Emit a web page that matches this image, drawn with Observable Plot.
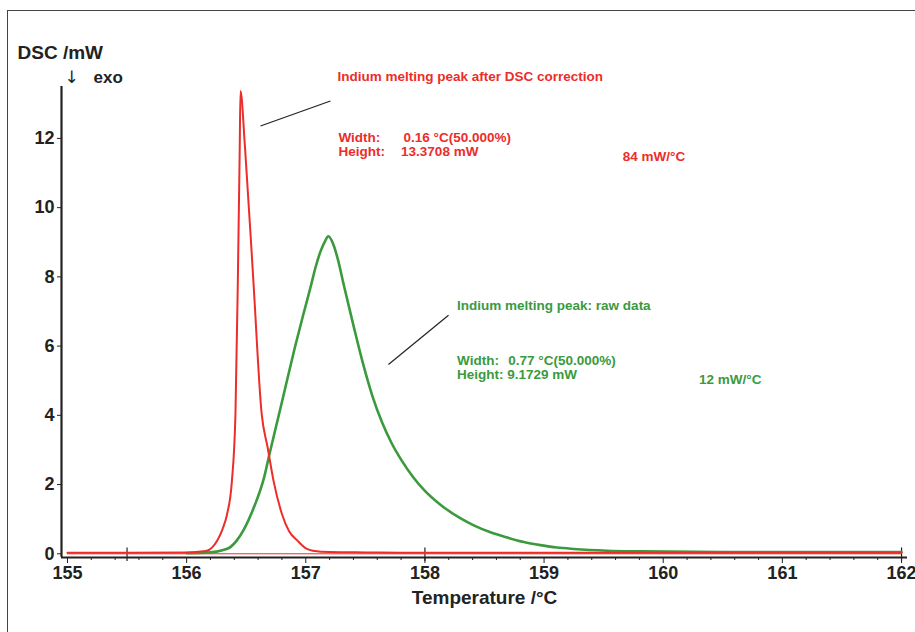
<!DOCTYPE html>
<html>
<head>
<meta charset="utf-8">
<script src="https://cdn.jsdelivr.net/npm/d3@7"></script>
<script src="https://cdn.jsdelivr.net/npm/@observablehq/plot@0.6"></script>
<style>
  html, body { margin: 0; padding: 0; background: #fff; overflow: hidden; }
  #wrap { position: relative; width: 915px; height: 632px; overflow: hidden; }
  #border { position: absolute; left: 7px; top: 10px; width: 1200px; height: 1200px;
            border: 1.5px solid #444; box-sizing: border-box; pointer-events: none; }
  #chart { position: absolute; left: 0; top: 0; }
</style>
</head>
<body>
<div id="wrap"><div id="border"></div><div id="chart"></div></div>
<script>
// Indium melting peak, corrected signal (red)
const redTemp = [155.0, 155.5, 156.0, 156.1, 156.17, 156.256, 156.30, 156.34, 156.38, 156.41, 156.43, 156.445, 156.452,
                 156.49, 156.56, 156.63, 156.68, 156.73, 156.80, 156.86, 156.93, 157.01, 157.06, 157.2, 157.5, 158.0, 159.0, 160.0, 161.0, 162.0];
const redDsc  = [0.03, 0.03, 0.04, 0.06, 0.09, 0.38, 0.7, 1.15, 2.1, 4.05, 7.9, 11.5, 13.3708,
                 11.74, 7.9, 4.04, 3.07, 2.1, 1.15, 0.65, 0.38, 0.14, 0.09, 0.05, 0.04, 0.03, 0.03, 0.03, 0.03, 0.03];

// Indium melting peak, raw signal (green)
const greenTemp = [156.0, 156.2, 156.3, 156.37, 156.42, 156.48, 156.56, 156.65, 156.70, 156.77, 156.84, 156.91, 156.98, 157.04,
                   157.08, 157.12, 157.16, 157.19, 157.23, 157.27, 157.32, 157.40, 157.48, 157.56, 157.64, 157.72, 157.80,
                   157.90, 158.00, 158.13, 158.30, 158.41, 158.55, 158.69, 158.83, 158.97, 159.11, 159.25, 159.53, 159.8,
                   160.5, 161.0, 162.0];
const greenDsc  = [0.02, 0.04, 0.1, 0.2, 0.38, 0.7, 1.3, 2.2, 2.95, 3.95, 4.97, 5.98, 6.92, 7.7,
                   8.25, 8.7, 9.02, 9.1729, 8.95, 8.5, 7.75, 6.6, 5.5, 4.55, 3.8, 3.2, 2.72,
                   2.22, 1.82, 1.42, 1.02, 0.82, 0.62, 0.47, 0.34, 0.25, 0.18, 0.14, 0.09, 0.07,
                   0.05, 0.05, 0.05];

// Axis ticks
const xTicks = [155, 156, 157, 158, 159, 160, 161, 162];
const xMinorTicks = d3.range(155, 162.001, 0.2).map(v => +v.toFixed(1)).filter(v => !Number.isInteger(v));
const yTicks = [0, 2, 4, 6, 8, 10, 12];
const evalLimits = [155.5, 158.0, 162.0];

// Peak evaluation notes
const redLabels = ["Indium melting peak after DSC correction", "Width:", "Height:", "84 mW/°C"];
const redValues = ["0.16 °C(50.000%)", "13.3708 mW"];
const greenLabels = ["Indium melting peak: raw data", "Width:", "Height:", "12 mW/°C"];
const greenValues = ["0.77 °C(50.000%)", "9.1729 mW"];

const RED = "#ec2d2a";
const GREEN = "#3b9a3d";
const INK = "#222";

const red = redTemp.map((t, i) => ({t, v: redDsc[i]}));
const green = greenTemp.map((t, i) => ({t, v: greenDsc[i]}));

const xMin = 154.95, xMax = 162.05, yMin = -0.107, yMax = 13.5;

const redText = [
  {t: 157.266, v: 13.77, s: redLabels[0]},
  {t: 157.274, v: 12.03, s: redLabels[1]},
  {t: 157.274, v: 11.63, s: redLabels[2]},
  {t: 157.82,  v: 12.03, s: redValues[0]},
  {t: 157.80,  v: 11.63, s: redValues[1]},
  {t: 159.66,  v: 11.48, s: redLabels[3]}
];
const greenText = [
  {t: 158.27, v: 7.18, s: greenLabels[0]},
  {t: 158.27, v: 5.59, s: greenLabels[1]},
  {t: 158.27, v: 5.18, s: greenLabels[2]},
  {t: 158.70, v: 5.59, s: greenValues[0]},
  {t: 158.69, v: 5.18, s: greenValues[1]},
  {t: 160.30, v: 5.04, s: greenLabels[3]}
];
// Leader lines from the notes towards each peak
const leaders = [
  {t1: 156.62, v1: 12.36, t2: 157.207, v2: 13.08},
  {t1: 157.694, v1: 5.47, t2: 158.198, v2: 6.89}
];

const noteStyle = {x: "t", y: "v", text: "s", fontSize: 13.5, textAnchor: "start", lineAnchor: "middle", letterSpacing: "0.15px"};

const chart = Plot.plot({
  width: 915,
  height: 632,
  marginLeft: 61,
  marginRight: 8,
  marginTop: 86,
  marginBottom: 75,
  x: {domain: [xMin, xMax]},
  y: {domain: [yMin, yMax]},
  style: {fontFamily: "'Liberation Sans', Arial, sans-serif", fontWeight: "bold", background: "transparent", color: INK},
  marks: [
    // axis lines
    Plot.ruleX([xMin], {y1: yMin, y2: yMax, stroke: INK, strokeWidth: 2.2}),
    Plot.ruleY([yMin], {x1: xMin, x2: xMax, stroke: INK, strokeWidth: 2.2}),
    Plot.axisY({ticks: yTicks, tickSize: 4, tickPadding: 3, fontSize: 18, label: null, stroke: INK, fill: INK}),
    Plot.axisX({ticks: xTicks, tickSize: 6, tickPadding: 3, fontSize: 18, label: null, stroke: INK, fill: INK, tickFormat: d => String(d)}),
    Plot.axisX({ticks: xMinorTicks, tickSize: 3, tickFormat: () => "", label: null, stroke: INK}),
    // evaluation limit markers across the axis
    Plot.ruleX(evalLimits, {y1: -0.22, y2: 0.17, stroke: INK, strokeWidth: 1.2}),
    // axis titles
    Plot.text(["DSC /mW"], {frameAnchor: "top-left", dx: -44, dy: -34, textAnchor: "start", lineAnchor: "middle",
      fontSize: 19, fill: INK, letterSpacing: "0.6px"}),
    Plot.text(["↓"], {frameAnchor: "top-left", dx: 3, dy: -9, textAnchor: "start", lineAnchor: "middle",
      fontSize: 17, fill: INK, fontWeight: "normal", fontFamily: "DejaVu Sans"}),
    Plot.text(["exo"], {frameAnchor: "top-left", dx: 32, dy: -9, textAnchor: "start", lineAnchor: "middle",
      fontSize: 17, fill: INK}),
    Plot.text(["Temperature /°C"], {frameAnchor: "bottom", dy: 40, lineAnchor: "middle",
      fontSize: 19, fill: INK, letterSpacing: "0.4px"}),
    // baseline
    Plot.ruleY([0], {x1: 155, x2: 162, stroke: RED, strokeWidth: 1}),
    // curves
    Plot.line(green, {x: "t", y: "v", stroke: GREEN, strokeWidth: 2.6, curve: "monotone-x"}),
    Plot.line(red, {x: "t", y: "v", stroke: RED, strokeWidth: 2, curve: "monotone-x"}),
    // leader lines
    Plot.link(leaders, {x1: "t1", y1: "v1", x2: "t2", y2: "v2", stroke: INK, strokeWidth: 1.2}),
    // notes
    Plot.text(redText, {...noteStyle, fill: RED}),
    Plot.text(greenText, {...noteStyle, fill: GREEN})
  ]
});
document.getElementById("chart").appendChild(chart);
</script>
</body>
</html>
